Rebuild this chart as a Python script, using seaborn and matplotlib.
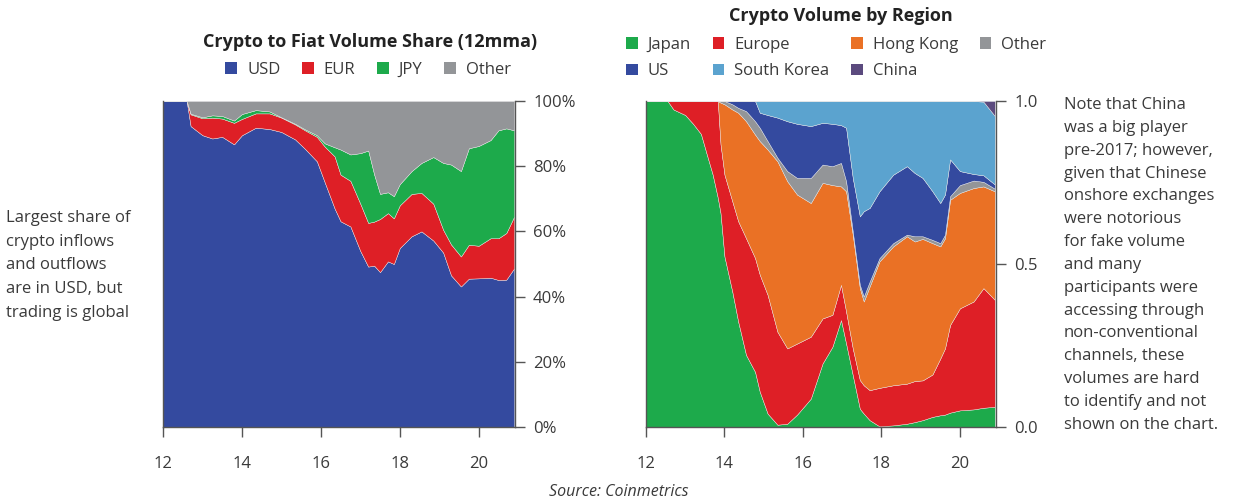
import numpy as np
import pandas as pd
import seaborn as sns
import matplotlib.pyplot as plt
from matplotlib.patches import Patch
from matplotlib.ticker import PercentFormatter

# Left chart: crypto to fiat volume share by currency (12mma), in %
fiat_years = [12.0, 12.6, 12.7, 13.0, 13.25, 13.5, 13.8, 14.0, 14.35, 14.7,
              15.0, 15.35, 15.6, 15.9, 16.1, 16.35, 16.5, 16.75, 17.0, 17.2,
              17.35, 17.5, 17.7, 17.85, 18.0, 18.3, 18.55, 18.85, 19.1, 19.3,
              19.55, 19.75, 20.0, 20.3, 20.5, 20.7, 20.9]
usd = [100, 100, 92.3, 89.5, 88.5, 89.0, 86.7, 89.5, 91.8, 91.4,
       90.5, 88.2, 85.3, 81.5, 75.0, 67.0, 63.1, 61.5, 54.0, 49.2,
       49.5, 47.5, 50.8, 50.0, 54.9, 58.5, 60.0, 57.2, 53.5, 46.5,
       43.1, 45.5, 45.6, 45.8, 45.1, 45.2, 48.7]
eur = [0, 0, 3.6, 5.2, 6.4, 5.6, 6.6, 5.0, 4.4, 4.8,
       4.4, 4.6, 5.7, 7.5, 11.0, 16.0, 14.3, 14.0, 14.5, 13.4,
       13.5, 16.3, 14.8, 14.0, 13.1, 13.0, 11.8, 11.3, 7.0, 9.5,
       9.2, 10.4, 10.0, 12.1, 12.8, 14.3, 15.9]
jpy = [0, 0, 0.2, 0.3, 0.7, 0.8, 0.7, 1.5, 1.0, 0.6,
       0.1, 0.2, 0.3, 0.5, 1.0, 2.8, 7.7, 8.1, 15.5, 22.2,
       14.5, 7.7, 6.4, 6.8, 6.5, 7.0, 9.2, 14.3, 20.5, 24.5,
       26.2, 29.6, 30.6, 30.1, 33.1, 32.1, 26.4]
fiat_other = [0, 0, 3.9, 5.0, 4.4, 4.6, 6.0, 4.0, 2.8, 3.2,
              5.0, 7.0, 8.7, 10.5, 13.0, 14.2, 14.9, 16.4, 16.0, 15.2,
              22.5, 28.5, 28.0, 29.2, 25.5, 21.5, 19.0, 17.2, 19.0, 19.5,
              21.5, 14.5, 13.8, 12.0, 9.0, 8.4, 9.0]
fiat_labels = ['USD', 'EUR', 'JPY', 'Other']

# Right chart: crypto volume share by region, in %
region_years = [12.0, 12.55, 12.7, 13.0, 13.2, 13.4, 13.55, 13.7, 13.83, 13.9,
                14.0, 14.2, 14.35, 14.55, 14.78, 14.9, 15.1, 15.35, 15.6, 15.85,
                16.2, 16.5, 16.75, 16.97, 17.1, 17.27, 17.45, 17.55, 17.7, 17.95,
                18.3, 18.65, 18.85, 19.05, 19.3, 19.5, 19.62, 19.75, 20.0, 20.35,
                20.6, 20.89]
japan = [100, 100, 97.4, 95.7, 93.0, 89.9, 83.6, 77.4, 70.3, 65.6,
         52.3, 41.5, 32.3, 22.1, 16.9, 10.8, 4.1, 0.7, 1.0, 3.8,
         8.7, 19.5, 24.6, 32.8, 25.6, 15.9, 5.6, 4.1, 2.1, 0.2,
         0.5, 1.0, 1.5, 2.1, 3.1, 3.6, 3.8, 4.4, 5.1, 5.4,
         5.9, 6.2]
europe = [0, 0, 2.6, 4.3, 7.0, 10.1, 16.4, 22.6, 29.7, 21.1,
          25.1, 27.7, 30.8, 35.8, 34.9, 35.9, 36.4, 28.5, 23.1, 21.8,
          19.0, 13.8, 9.8, 10.8, 9.8, 8.2, 8.8, 8.7, 9.2, 11.8,
          12.3, 12.3, 12.6, 12.2, 13.0, 17.4, 20.3, 26.9, 31.3, 33.1,
          36.7, 32.8]
hong_kong = [0, 0, 0, 0, 0, 0, 0, 0, 0, 12.8,
             21.6, 28.2, 33.3, 35.9, 37.9, 41.0, 44.6, 52.3, 51.3, 45.7,
             41.0, 41.6, 39.8, 30.2, 36.9, 34.9, 28.2, 25.7, 31.8, 38.8,
             42.6, 45.2, 42.8, 43.4, 40.3, 34.4, 33.8, 38.4, 35.4, 34.8,
             31.2, 33.3]
region_other = [0, 0, 0, 0, 0, 0, 0, 0, 0, 0.5,
                1.0, 1.6, 1.5, 3.1, 4.1, 4.1, 2.6, 1.1, 3.1, 5.1,
                7.7, 5.6, 5.8, 7.2, 3.1, 1.0, 1.0, 1.5, 1.5, 1.0,
                1.0, 0.5, 1.6, 0.8, 1.0, 1.0, 1.1, 1.1, 2.4, 2.3,
                1.4, 0.8]
us = [0, 0, 0, 0, 0, 0, 0, 0, 0, 0,
      0, 1.0, 2.1, 3.1, 6.2, 4.6, 8.0, 12.3, 15.3, 16.6,
      15.9, 12.8, 13.0, 11.6, 16.4, 16.4, 21.0, 26.2, 22.6, 20.5,
      21.0, 21.0, 19.4, 17.9, 14.9, 12.3, 12.3, 11.3, 4.3, 2.0,
      2.0, 1.3]
south_korea = [0, 0, 0, 0, 0, 0, 0, 0, 0, 0,
               0, 0, 0, 0, 0, 3.6, 4.3, 5.1, 6.2, 7.0,
               7.7, 6.7, 7.0, 7.4, 8.2, 23.6, 35.4, 33.8, 32.8, 27.7,
               22.6, 20.0, 22.1, 23.6, 27.7, 31.3, 28.7, 17.9, 21.5, 22.4,
               22.6, 21.0]
china = [0, 0, 0, 0, 0, 0, 0, 0, 0, 0,
         0, 0, 0, 0, 0, 0, 0, 0, 0, 0,
         0, 0, 0, 0, 0, 0, 0, 0, 0, 0,
         0, 0, 0, 0, 0, 0, 0, 0, 0, 0,
         0.2, 4.6]
region_labels = ['Japan', 'Europe', 'Hong Kong', 'Other', 'US', 'South Korea', 'China']

fiat_colors = ['#344a9f', '#de1f26', '#1daa4b', '#939598']
region_colors = ['#1daa4b', '#de1f26', '#ea7125', '#939598', '#344a9f', '#5ba3cf', '#5b4a7e']

sns.set_theme(style='ticks')
plt.rcParams['font.family'] = ['Open Sans', 'DejaVu Sans']
TXT = '#3a3a3a'
AX = '#555555'

fig = plt.figure(figsize=(12.38, 5.01), dpi=100)

def style_axes(ax):
    ax.set_xlim(12, 20.92)
    ax.set_xticks([12, 14, 16, 18, 20])
    ax.yaxis.tick_right()
    for side in ['left', 'right', 'bottom']:
        ax.spines[side].set_color(AX)
        ax.spines[side].set_linewidth(1.0)
    ax.spines['top'].set_visible(False)
    ax.tick_params(axis='both', colors=AX, labelcolor=TXT, labelsize=12,
                   length=7, width=1.0, direction='out')
    ax.tick_params(axis='x', pad=14)
    ax.tick_params(axis='y', pad=6)
    ax.grid(False)

# Left chart
ax1 = fig.add_axes([163 / 1238, 74 / 501, 352 / 1238, 326 / 501])
ax1.stackplot(fiat_years, usd, eur, jpy, fiat_other, colors=fiat_colors,
              linewidth=0.3, edgecolor='#e8e8e8')
ax1.set_ylim(0, 100)
ax1.set_yticks([0, 20, 40, 60, 80, 100])
ax1.yaxis.set_major_formatter(PercentFormatter(decimals=0))
style_axes(ax1)

fig.text(370 / 1238, 1 - 42 / 501, 'Crypto to Fiat Volume Share (12mma)',
         ha='center', va='center', fontsize=13, fontweight='bold', color='#222222')
h1 = [Patch(facecolor=c, edgecolor='none') for c in fiat_colors]
fig.legend(h1, fiat_labels, loc='center', bbox_to_anchor=(368 / 1238, 1 - 70 / 501),
           ncol=4, frameon=False, fontsize=12, handlelength=0.7, handleheight=0.7,
           handletextpad=0.6, columnspacing=1.3, labelcolor=TXT)

# Right chart
ax2 = fig.add_axes([646 / 1238, 74 / 501, 350 / 1238, 326 / 501])
region_vals = [np.array(s) / 100 for s in
               [japan, europe, hong_kong, region_other, us, south_korea, china]]
ax2.stackplot(region_years, *region_vals, colors=region_colors,
              linewidth=0.3, edgecolor='#e8e8e8')
ax2.set_ylim(0, 1)
ax2.set_yticks([0, 0.5, 1.0])
ax2.set_yticklabels(['0.0', '0.5', '1.0'])
style_axes(ax2)

fig.text(841 / 1238, 1 - 16 / 501, 'Crypto Volume by Region',
         ha='center', va='center', fontsize=13, fontweight='bold', color='#222222')
h2 = [Patch(facecolor=c, edgecolor='none') for c in region_colors]
# reorder so the legend reads row by row
order = [0, 4, 1, 5, 2, 6, 3]
fig.legend([h2[i] for i in order], [region_labels[i] for i in order],
           loc='upper left', bbox_to_anchor=(611 / 1238, 1 - 22 / 501),
           ncol=4, frameon=False, fontsize=12, handlelength=0.7, handleheight=0.7,
           handletextpad=0.6, columnspacing=1.3, labelspacing=0.62, labelcolor=TXT)

# side notes
fig.text(6 / 1238, 1 - 210 / 501,
         'Largest share of\ncrypto inflows\nand outflows\nare in USD, but\ntrading is global',
         ha='left', va='top', fontsize=12, color=TXT, linespacing=1.64)
fig.text(1064 / 1238, 1 - 97 / 501,
         'Note that China\nwas a big player\npre-2017; however,\ngiven that Chinese\n'
         'onshore exchanges\nwere notorious\nfor fake volume\nand many\n'
         'participants were\naccessing through\nnon-conventional\nchannels, these\n'
         'volumes are hard\nto identify and not\nshown on the chart.',
         ha='left', va='top', fontsize=12, color=TXT, linespacing=1.57)

fig.text(619 / 1238, 1 - 492 / 501, 'Source: Coinmetrics', ha='center', va='center',
         fontsize=11.5, style='italic', color=TXT)

fig.savefig('out.png', dpi=100)
